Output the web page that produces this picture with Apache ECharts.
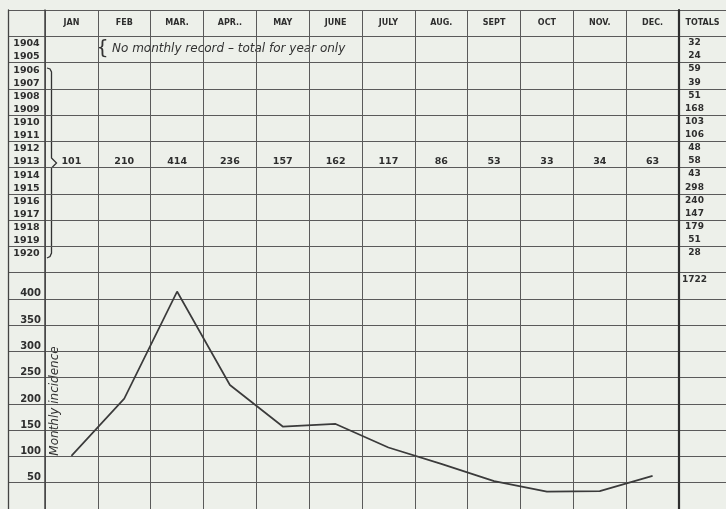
<!DOCTYPE html>
<html><head><meta charset="utf-8">
<script src="https://cdn.jsdelivr.net/npm/echarts@6/dist/echarts.min.js"></script>
<style>html,body{margin:0;padding:0;background:#edf0ea}#c{width:726px;height:509px}</style>
</head><body><div id="c"></div>
<script>
// ---- data ----
const months = ['JAN','FEB','MAR.','APR..','MAY','JUNE','JULY','AUG.','SEPT','OCT','NOV.','DEC.'];
const monthlyIncidence = [101,210,414,236,157,162,117,86,53,33,34,63];
const years = ['1904','1905','1906','1907','1908','1909','1910','1911','1912','1913','1914','1915','1916','1917','1918','1919','1920'];
const yearTotals = [32,24,59,39,51,168,103,106,48,58,43,298,240,147,179,51,28];
const grandTotal = 1722;
const monthlyRowYear = '1913';
const incidenceTicks = [50,100,150,200,250,300,350,400];
const totalsHeader = ['TOTALS'];
const noteText = 'No monthly record – total for year only';
const axisTitle = 'Monthly incidence';

// ---- layout helpers (table rows: two per 50-unit band) ----
const Y_MAX = 950, TABLE_TOP = 900, ROW = 25;
const rowValue = idx => TABLE_TOP - ROW / 2 - ROW * idx;

const LINE = '#5a5a5a';
const INK = '#2e2e2e';
const FONT = 'DejaVu Sans';

const yBase = () => ({
  type: 'value', min: 0, max: Y_MAX, interval: 50,
  axisTick: { show: false },
  axisLabel: { show: false },
  splitLine: { show: true, lineStyle: { color: LINE, width: 1 } }
});

const cellLabel = extra => Object.assign({ show: true, position: 'inside',
  fontFamily: FONT, fontSize: 9.5, fontWeight: 'bold', color: INK,
  textBorderWidth: 0, opacity: 1 }, extra);

const chart = echarts.init(document.getElementById('c'), null, { renderer: 'canvas' });
chart.setOption({
  backgroundColor: '#edf0ea',
  animation: false,
  grid: [
    { left: 8, width: 37, top: 10, height: 503 },
    { left: 45, width: 634, top: 10, height: 503 },
    { left: 679, width: 53, top: 10, height: 503 }
  ],
  xAxis: [
    { gridIndex: 0, type: 'value', min: 0, max: 1, show: false },
    {
      gridIndex: 1, type: 'category', data: months, position: 'top',
      axisLine: { show: true, lineStyle: { color: LINE, width: 1 } },
      axisTick: { show: false },
      axisLabel: { inside: true, margin: 13, verticalAlign: 'middle', interval: 0,
        fontFamily: FONT, fontSize: 8, fontWeight: 'bold', color: INK },
      splitLine: { show: true, interval: 0, lineStyle: { color: LINE, width: 1 } }
    },
    {
      gridIndex: 2, type: 'category', data: totalsHeader, position: 'top',
      axisLine: { show: true, lineStyle: { color: LINE, width: 1 } },
      axisTick: { show: false },
      axisLabel: { inside: true, margin: 13, verticalAlign: 'middle', interval: 0,
        fontFamily: FONT, fontSize: 8, fontWeight: 'bold', color: INK },
      splitLine: { show: false }
    }
  ],
  yAxis: [
    Object.assign(yBase(), { gridIndex: 0,
      axisLine: { show: true, lineStyle: { color: '#444', width: 1.3 } } }),
    Object.assign(yBase(), { gridIndex: 1,
      axisLine: { show: true, lineStyle: { color: '#444', width: 1.5 } },
      axisLabel: { show: true, margin: 4, verticalAlign: 'bottom',
        fontFamily: FONT, fontSize: 10, fontWeight: 'bold', color: INK,
        formatter: v => incidenceTicks.includes(v) ? String(v) : '' } }),
    Object.assign(yBase(), { gridIndex: 2,
      axisLine: { show: true, lineStyle: { color: '#2e2e2e', width: 2.2 } } })
  ],
  series: [
    {
      type: 'line', xAxisIndex: 1, yAxisIndex: 1, data: monthlyIncidence,
      symbol: 'none', smooth: false, silent: true,
      lineStyle: { color: '#3b3b3b', width: 1.7 }
    },
    {
      type: 'scatter', xAxisIndex: 1, yAxisIndex: 1, silent: true,
      symbolSize: 1, itemStyle: { color: '#edf0ea', opacity: 1 },
      data: monthlyIncidence.map((v, i) => [i, rowValue(years.indexOf(monthlyRowYear)), v]),
      label: cellLabel({ offset: [0, 1], formatter: p => String(p.data[2]) })
    },
    {
      type: 'scatter', xAxisIndex: 0, yAxisIndex: 0, silent: true,
      symbolSize: 1, itemStyle: { color: '#edf0ea', opacity: 1 },
      data: years.map((y, i) => [0.5, rowValue(i), y]),
      label: cellLabel({ offset: [0, 1], formatter: p => p.data[2] })
    },
    {
      type: 'scatter', xAxisIndex: 2, yAxisIndex: 2, silent: true,
      symbolSize: 1, itemStyle: { color: '#edf0ea', opacity: 1 },
      data: yearTotals.map((t, i) => [0, rowValue(i), t]).concat([[0, rowValue(years.length + 1), grandTotal]]),
      label: cellLabel({ offset: [-8, 0], fontSize: 9, formatter: p => String(p.data[2]) })
    }
  ],
  graphic: [
    { type: 'polyline', silent: true,
      shape: { points: [[47,68],[50,69],[51.5,72],[51.5,158],[56.5,163],[51.5,168],[51.5,253],[50,256.5],[47,258]] },
      style: { stroke: '#333', lineWidth: 1.3, fill: null } },
    { type: 'text', silent: true, x: 96, y: 49,
      style: { text: '{', font: '20px ' + FONT, fill: '#333', align: 'left', verticalAlign: 'middle',
        textAlign: 'left', textVerticalAlign: 'middle' } },
    { type: 'text', silent: true, x: 112, y: 49,
      style: { text: noteText, font: 'italic 12px ' + FONT, fill: '#333', align: 'left', verticalAlign: 'middle',
        textAlign: 'left', textVerticalAlign: 'middle' } },
    { type: 'text', silent: true, x: 55, y: 401, rotation: Math.PI / 2,
      style: { text: axisTitle, font: 'italic 12px ' + FONT, fill: '#333', align: 'center', verticalAlign: 'middle',
        textAlign: 'center', textVerticalAlign: 'middle' } }
  ]
});
</script>
</body></html>
